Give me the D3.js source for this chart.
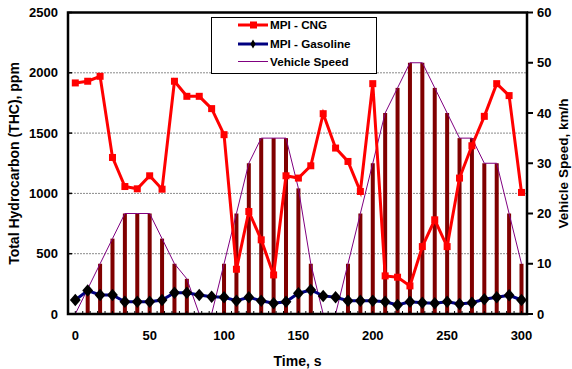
<!DOCTYPE html>
<html><head><meta charset="utf-8">
<script src="https://cdn.jsdelivr.net/npm/d3@7"></script>
<style>
html,body{margin:0;padding:0;background:#fff;}
svg{display:block;font-family:Arial,"Liberation Sans",sans-serif;font-weight:bold;}
</style></head>
<body><svg id="c" width="572" height="369"></svg>
<script>
const times = d3.range(37).map(i => i * 300 / 36);
const speed = [0,5,10,15,20,20,20,15,10,7,0,0,10,20,30,35,35,35,25,10,0,0,10,20,30,40,45,50,50,45,40,35,35,30,30,20,10];
const cng = [1916,1930,1971,1298,1057,1038,1146,1035,1930,1805,1805,1703,1487,371,850,615,324,1146,1127,1229,1661,1376,1265,1016,1910,316,305,233,559,781,559,1127,1395,1639,1910,1811,1008];
const gasoline = [116,194,158,158,102,102,102,116,177,177,158,144,139,110,139,110,89,102,172,199,150,139,110,110,110,102,75,102,94,89,102,83,94,122,139,155,116];
const leftTicks = [0,500,1000,1500,2000,2500];
const rightTicks = [0,10,20,30,40,50,60];
const xTicks = [0,50,100,150,200,250,300];
const legendItems = ["MPI - CNG","MPI - Gasoline","Vehicle Speed"];

const svg = d3.select("#c");
const L = 68, R = 527, T = 12.5, B = 314;
const x = d3.scaleLinear().domain([0,300]).range([75.3,521.5]);
const y = d3.scaleLinear().domain([0,2500]).range([B,T]);
const y2 = d3.scaleLinear().domain([0,60]).range([B,T]);

// gridlines
svg.append("g").selectAll("line").data([500,1000,1500,2000]).join("line")
  .attr("x1",L).attr("x2",R).attr("y1",d=>y(d)).attr("y2",d=>y(d))
  .attr("stroke","#8a8a8a").attr("stroke-width",1).attr("stroke-dasharray","2,1");

// speed bars
svg.append("g").selectAll("rect").data(times.map((t,i)=>({t,v:speed[i]})).filter(d=>d.v>0)).join("rect")
  .attr("x",d=>x(d.t)-2).attr("width",4)
  .attr("y",d=>y2(d.v)).attr("height",d=>B-y2(d.v))
  .attr("fill","#800000");

// speed line
svg.append("path").datum(times.map((t,i)=>[t,speed[i]]))
  .attr("d",d3.line().x(d=>x(d[0])).y(d=>y2(d[1])))
  .attr("fill","none").attr("stroke","#800080").attr("stroke-width",1);

// gasoline
svg.append("path").datum(times.map((t,i)=>[t,gasoline[i]]))
  .attr("d",d3.line().x(d=>x(d[0])).y(d=>y(d[1])))
  .attr("fill","none").attr("stroke","#000080").attr("stroke-width",3);
const diamond = d3.symbol().type(d3.symbolDiamond).size(45);
svg.append("g").selectAll("path").data(times.map((t,i)=>[t,gasoline[i]])).join("path")
  .attr("transform",d=>`translate(${x(d[0])},${y(d[1])}) scale(1.5,1)`)
  .attr("d",diamond).attr("fill","#000");

// CNG
svg.append("path").datum(times.map((t,i)=>[t,cng[i]]))
  .attr("d",d3.line().x(d=>x(d[0])).y(d=>y(d[1])))
  .attr("fill","none").attr("stroke","#ff0000").attr("stroke-width",3);
svg.append("g").selectAll("rect").data(times.map((t,i)=>[t,cng[i]])).join("rect")
  .attr("x",d=>x(d[0])-3.5).attr("y",d=>y(d[1])-3.5).attr("width",7).attr("height",7)
  .attr("fill","#ff0000");

// frame
svg.append("rect").attr("x",L).attr("y",T).attr("width",R-L).attr("height",B-T)
  .attr("fill","none").attr("stroke","#000").attr("stroke-width",2.5);

// left ticks
svg.append("g").selectAll("line").data(leftTicks).join("line")
  .attr("x1",L).attr("x2",L+4).attr("y1",d=>y(d)).attr("y2",d=>y(d)).attr("stroke","#000").attr("stroke-width",1.5);
svg.append("g").selectAll("text").data(leftTicks).join("text")
  .attr("x",58).attr("y",d=>y(d)).attr("dy","0.36em").attr("text-anchor","end")
  .attr("font-size",13).text(d=>d);

// right ticks
svg.append("g").selectAll("line").data(rightTicks).join("line")
  .attr("x1",R).attr("x2",R+6).attr("y1",d=>y2(d)).attr("y2",d=>y2(d)).attr("stroke","#000").attr("stroke-width",2);
svg.append("g").selectAll("text").data(rightTicks).join("text")
  .attr("x",537).attr("y",d=>y2(d)).attr("dy","0.36em").attr("text-anchor","start")
  .attr("font-size",13).text(d=>d);

// x ticks
svg.append("g").selectAll("line").data(d3.range(0,301,5)).join("line")
  .attr("x1",d=>x(d)).attr("x2",d=>x(d)).attr("y1",B).attr("y2",B-3).attr("stroke","#000").attr("stroke-width",1);
svg.append("g").selectAll("text").data(xTicks).join("text")
  .attr("x",d=>x(d)).attr("y",335).attr("dy","0.36em").attr("text-anchor","middle")
  .attr("font-size",13).text(d=>d);

// titles
svg.append("text").attr("x",297.5).attr("y",361).attr("dy","0.36em").attr("text-anchor","middle")
  .attr("font-size",14).text("Time, s");
svg.append("text").attr("transform","translate(14,163.5) rotate(-90)").attr("dy","0.36em")
  .attr("text-anchor","middle").attr("font-size",14).text("Total Hydrocarbon (THC), ppm");
svg.append("text").attr("transform","translate(563.5,163.5) rotate(-90)").attr("dy","0.36em")
  .attr("text-anchor","middle").attr("font-size",13.5).text("Vehicle Speed, km/h");

// legend
const lg = svg.append("g");
lg.append("rect").attr("x",211.5).attr("y",17.5).attr("width",165).attr("height",56)
  .attr("fill","#fff").attr("stroke","#000").attr("stroke-width",1);
const rowsY = [25,44,61.5];
lg.append("line").attr("x1",238).attr("x2",268).attr("y1",rowsY[0]).attr("y2",rowsY[0]).attr("stroke","#ff0000").attr("stroke-width",3);
lg.append("rect").attr("x",250).attr("y",rowsY[0]-3.5).attr("width",7).attr("height",7).attr("fill","#ff0000");
lg.append("line").attr("x1",238).attr("x2",268).attr("y1",rowsY[1]).attr("y2",rowsY[1]).attr("stroke","#000080").attr("stroke-width",3);
lg.append("path").attr("transform",`translate(253,${rowsY[1]})`).attr("d",d3.symbol().type(d3.symbolDiamond).size(24)).attr("fill","#000");
lg.append("line").attr("x1",238).attr("x2",268).attr("y1",rowsY[2]).attr("y2",rowsY[2]).attr("stroke","#800080").attr("stroke-width",1);
lg.selectAll("text.l").data(legendItems).join("text").attr("class","l")
  .attr("x",270).attr("y",(d,i)=>rowsY[i]).attr("dy","0.36em").attr("font-size",11.7).text(d=>d);
</script></body></html>
